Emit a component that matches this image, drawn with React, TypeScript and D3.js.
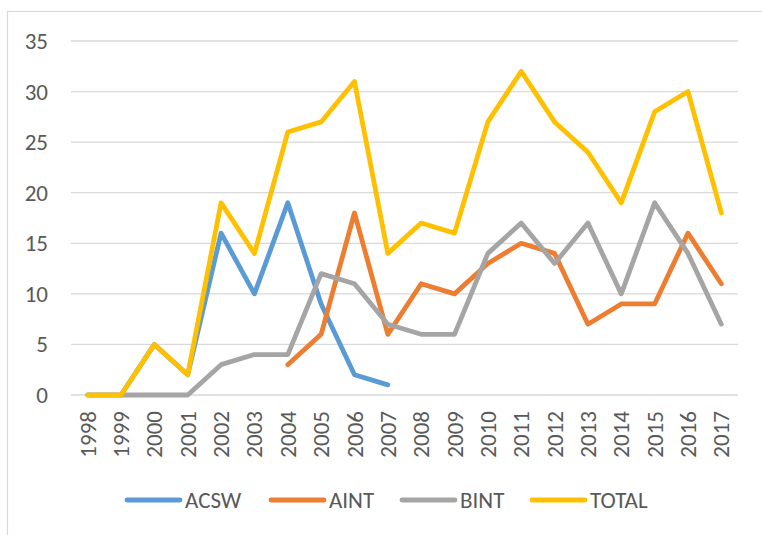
import React, { useRef, useEffect } from 'react';
import * as d3 from 'd3';

const years = ['1998', '1999', '2000', '2001', '2002', '2003', '2004', '2005', '2006', '2007',
  '2008', '2009', '2010', '2011', '2012', '2013', '2014', '2015', '2016', '2017'];

const seriesNames = ['ACSW', 'AINT', 'BINT', 'TOTAL'];

// null = no value for that year
const acsw = [0, 0, 5, 2, 16, 10, 19, 9, 2, 1, null, null, null, null, null, null, null, null, null, null];
const aint = [null, null, null, null, null, null, 3, 6, 18, 6, 11, 10, 13, 15, 14, 7, 9, 9, 16, 11];
const bint = [null, 0, 0, 0, 3, 4, 4, 12, 11, 7, 6, 6, 14, 17, 13, 17, 10, 19, 14, 7];
const total = [0, 0, 5, 2, 19, 14, 26, 27, 31, 14, 17, 16, 27, 32, 27, 24, 19, 28, 30, 18];

const yTicks = [0, 5, 10, 15, 20, 25, 30, 35];

const colors = ['#5B9BD5', '#ED7D31', '#A5A5A5', '#FFC000'];

const W = 762;
const H = 535;

const App = () => {
  const svgRef = useRef<SVGSVGElement | null>(null);

  useEffect(() => {
    if (!svgRef.current) return;
    const svg = d3.select(svgRef.current);
    svg.selectAll('*').remove();

    const font = 'Carlito, "Open Sans", "Liberation Sans", sans-serif';
    const fs = '23px';
    const left = 71, right = 738, top = 41, bottom = 395;

    // outer frame (runs off the right/bottom edge like the original)
    svg.append('rect')
      .attr('x', 7.5).attr('y', 11.5)
      .attr('width', 800).attr('height', 600)
      .attr('fill', '#fff')
      .attr('stroke', '#d9d9d9')
      .attr('stroke-width', 1.2);

    const x = d3.scaleBand().domain(years).range([left, right]);
    const y = d3.scaleLinear().domain([0, 35]).range([bottom, top]);

    // gridlines + y labels
    yTicks.forEach(t => {
      svg.append('line')
        .attr('x1', left).attr('x2', right)
        .attr('y1', y(t)).attr('y2', y(t))
        .attr('stroke', '#d9d9d9')
        .attr('stroke-width', 1.3);
      svg.append('text')
        .attr('x', 48).attr('y', y(t))
        .attr('dy', '0.35em')
        .attr('text-anchor', 'end')
        .attr('fill', '#595959')
        .attr('font-family', font)
        .attr('font-size', fs)
        .text(t);
    });

    // x labels, rotated
    years.forEach(yr => {
      const cx = x(yr)! + x.bandwidth() / 2;
      svg.append('text')
        .attr('transform', `translate(${cx},${bottom + 16}) rotate(-90)`)
        .attr('dy', '0.35em')
        .attr('text-anchor', 'end')
        .attr('fill', '#595959')
        .attr('font-family', font)
        .attr('font-size', fs)
        .text(yr);
    });

    const allSeries = [acsw, aint, bint, total];
    const line = d3.line<number | null>()
      .defined(d => d !== null)
      .x((_, i) => x(years[i])! + x.bandwidth() / 2)
      .y(d => y(d as number));

    allSeries.forEach((s, i) => {
      svg.append('path')
        .datum(s)
        .attr('d', line)
        .attr('fill', 'none')
        .attr('stroke', colors[i])
        .attr('stroke-width', 4.8)
        .attr('stroke-linejoin', 'round')
        .attr('stroke-linecap', 'round');
    });

    // legend
    const legendX = [127, 271, 402, 532];
    seriesNames.forEach((name, i) => {
      svg.append('line')
        .attr('x1', legendX[i]).attr('x2', legendX[i] + 53)
        .attr('y1', 500).attr('y2', 500)
        .attr('stroke', colors[i])
        .attr('stroke-width', 4.8)
        .attr('stroke-linecap', 'round');
      svg.append('text')
        .attr('x', legendX[i] + 58).attr('y', 500)
        .attr('dy', '0.35em')
        .attr('fill', '#595959')
        .attr('font-family', font)
        .attr('font-size', fs)
        .text(name);
    });
  }, []);

  return (
    <svg ref={svgRef} width={W} height={H}
      style={{ position: 'absolute', left: 0, top: 0, background: '#fff' }} />
  );
};

export default App;
